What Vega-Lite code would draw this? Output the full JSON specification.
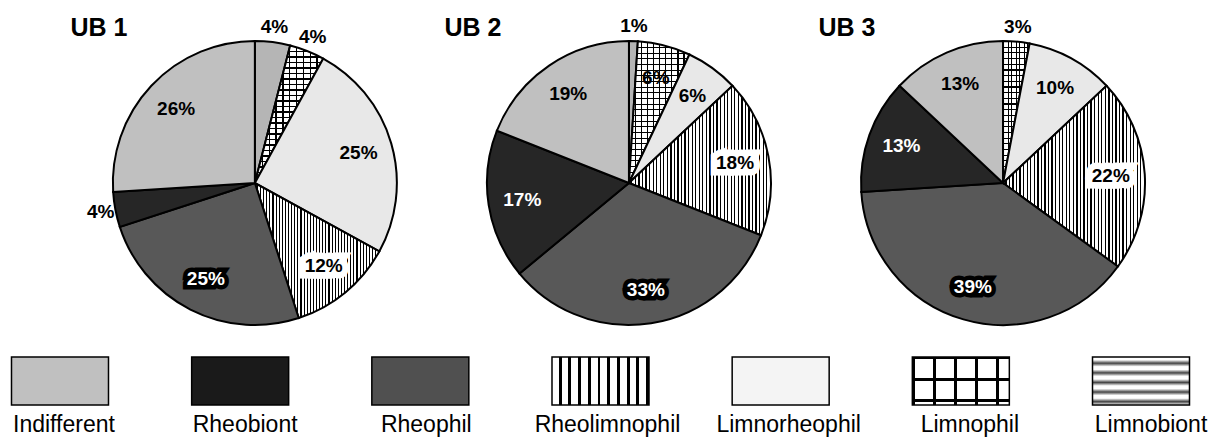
{
"$schema": "https://vega.github.io/schema/vega-lite/v6.json",
"padding": 0,
"background": "#ffffff",
"config": {"view": {"stroke": null}, "font": "Liberation Sans", "text": {"font": "Liberation Sans"}},
"bounds": "flush",
"spacing": 0,
"resolve": {"scale": {"x": "independent"}},
"datasets": {
"pies": [
{"ub":"UB 1","cat":"Limnobiont","share":0.04},
{"ub":"UB 1","cat":"Limnophil","share":0.04},
{"ub":"UB 1","cat":"Limnorheophil","share":0.25},
{"ub":"UB 1","cat":"Rheolimnophil","share":0.12},
{"ub":"UB 1","cat":"Rheophil","share":0.25},
{"ub":"UB 1","cat":"Rheobiont","share":0.04},
{"ub":"UB 1","cat":"Indifferent","share":0.26},
{"ub":"UB 2","cat":"Limnobiont","share":0.01},
{"ub":"UB 2","cat":"Limnophil","share":0.06},
{"ub":"UB 2","cat":"Limnorheophil","share":0.06},
{"ub":"UB 2","cat":"Rheolimnophil","share":0.18},
{"ub":"UB 2","cat":"Rheophil","share":0.33},
{"ub":"UB 2","cat":"Rheobiont","share":0.17},
{"ub":"UB 2","cat":"Indifferent","share":0.19},
{"ub":"UB 3","cat":"Limnophil","share":0.03},
{"ub":"UB 3","cat":"Limnorheophil","share":0.10},
{"ub":"UB 3","cat":"Rheolimnophil","share":0.22},
{"ub":"UB 3","cat":"Rheophil","share":0.39},
{"ub":"UB 3","cat":"Rheobiont","share":0.13},
{"ub":"UB 3","cat":"Indifferent","share":0.13}
],
"cats": [{"cat":"Indifferent"},{"cat":"Rheobiont"},{"cat":"Rheophil"},{"cat":"Rheolimnophil"},{"cat":"Limnorheophil"},{"cat":"Limnophil"},{"cat":"Limnobiont"}]
},
"vconcat": [
{
"width": 1221, "height": 357,
"data": {"name": "pies"},
"transform": [{"window": [{"op": "row_number", "as": "rn"}]}],
"encoding": {"x": {"field": "ub", "type": "nominal", "scale": {"type": "point", "domain": ["UB 1", "UB 2", "UB 3"], "padding": 0.632, "align": 0.539}, "axis": null}},
"layer": [
{
"transform": [{"stack": "share", "groupby": ["ub"], "sort": [{"field": "rn", "order": "ascending"}], "as": ["s0", "s1"]}],
"encoding": {"theta": {"field": "s0", "type": "quantitative", "scale": {"domain": [0, 1]}}, "theta2": {"field": "s1"}},
"layer": [
{"mark": {"type": "arc", "outerRadius": 142, "stroke": "#000", "strokeWidth": 2, "yOffset": 4.5},
 "encoding": {"fill": {"condition": [
  {"test": "datum.cat === 'Indifferent'", "value": "#c0c0c0"},
  {"test": "datum.cat === 'Rheobiont'", "value": "#262626"},
  {"test": "datum.cat === 'Rheophil'", "value": "#585858"},
  {"test": "datum.cat === 'Rheolimnophil'", "value": {"gradient": "linear", "x1": 0, "y1": 0, "x2": 1, "y2": 0, "stops": [
{"offset":0,"color":"#fff"},{"offset":0.016,"color":"#fff"},{"offset":0.016,"color":"#000"},{"offset":0.025,"color":"#000"},
{"offset":0.025,"color":"#fff"},{"offset":0.041,"color":"#fff"},{"offset":0.041,"color":"#000"},{"offset":0.05,"color":"#000"},
{"offset":0.05,"color":"#fff"},{"offset":0.066,"color":"#fff"},{"offset":0.066,"color":"#000"},{"offset":0.075,"color":"#000"},
{"offset":0.075,"color":"#fff"},{"offset":0.091,"color":"#fff"},{"offset":0.091,"color":"#000"},{"offset":0.1,"color":"#000"},
{"offset":0.1,"color":"#fff"},{"offset":0.116,"color":"#fff"},{"offset":0.116,"color":"#000"},{"offset":0.125,"color":"#000"},
{"offset":0.125,"color":"#fff"},{"offset":0.141,"color":"#fff"},{"offset":0.141,"color":"#000"},{"offset":0.15,"color":"#000"},
{"offset":0.15,"color":"#fff"},{"offset":0.166,"color":"#fff"},{"offset":0.166,"color":"#000"},{"offset":0.175,"color":"#000"},
{"offset":0.175,"color":"#fff"},{"offset":0.191,"color":"#fff"},{"offset":0.191,"color":"#000"},{"offset":0.2,"color":"#000"},
{"offset":0.2,"color":"#fff"},{"offset":0.216,"color":"#fff"},{"offset":0.216,"color":"#000"},{"offset":0.225,"color":"#000"},
{"offset":0.225,"color":"#fff"},{"offset":0.241,"color":"#fff"},{"offset":0.241,"color":"#000"},{"offset":0.25,"color":"#000"},
{"offset":0.25,"color":"#fff"},{"offset":0.266,"color":"#fff"},{"offset":0.266,"color":"#000"},{"offset":0.275,"color":"#000"},
{"offset":0.275,"color":"#fff"},{"offset":0.291,"color":"#fff"},{"offset":0.291,"color":"#000"},{"offset":0.3,"color":"#000"},
{"offset":0.3,"color":"#fff"},{"offset":0.316,"color":"#fff"},{"offset":0.316,"color":"#000"},{"offset":0.325,"color":"#000"},
{"offset":0.325,"color":"#fff"},{"offset":0.341,"color":"#fff"},{"offset":0.341,"color":"#000"},{"offset":0.35,"color":"#000"},
{"offset":0.35,"color":"#fff"},{"offset":0.366,"color":"#fff"},{"offset":0.366,"color":"#000"},{"offset":0.375,"color":"#000"},
{"offset":0.375,"color":"#fff"},{"offset":0.391,"color":"#fff"},{"offset":0.391,"color":"#000"},{"offset":0.4,"color":"#000"},
{"offset":0.4,"color":"#fff"},{"offset":0.416,"color":"#fff"},{"offset":0.416,"color":"#000"},{"offset":0.425,"color":"#000"},
{"offset":0.425,"color":"#fff"},{"offset":0.441,"color":"#fff"},{"offset":0.441,"color":"#000"},{"offset":0.45,"color":"#000"},
{"offset":0.45,"color":"#fff"},{"offset":0.466,"color":"#fff"},{"offset":0.466,"color":"#000"},{"offset":0.475,"color":"#000"},
{"offset":0.475,"color":"#fff"},{"offset":0.491,"color":"#fff"},{"offset":0.491,"color":"#000"},{"offset":0.5,"color":"#000"},
{"offset":0.5,"color":"#fff"},{"offset":0.516,"color":"#fff"},{"offset":0.516,"color":"#000"},{"offset":0.525,"color":"#000"},
{"offset":0.525,"color":"#fff"},{"offset":0.541,"color":"#fff"},{"offset":0.541,"color":"#000"},{"offset":0.55,"color":"#000"},
{"offset":0.55,"color":"#fff"},{"offset":0.566,"color":"#fff"},{"offset":0.566,"color":"#000"},{"offset":0.575,"color":"#000"},
{"offset":0.575,"color":"#fff"},{"offset":0.591,"color":"#fff"},{"offset":0.591,"color":"#000"},{"offset":0.6,"color":"#000"},
{"offset":0.6,"color":"#fff"},{"offset":0.616,"color":"#fff"},{"offset":0.616,"color":"#000"},{"offset":0.625,"color":"#000"},
{"offset":0.625,"color":"#fff"},{"offset":0.641,"color":"#fff"},{"offset":0.641,"color":"#000"},{"offset":0.65,"color":"#000"},
{"offset":0.65,"color":"#fff"},{"offset":0.666,"color":"#fff"},{"offset":0.666,"color":"#000"},{"offset":0.675,"color":"#000"},
{"offset":0.675,"color":"#fff"},{"offset":0.691,"color":"#fff"},{"offset":0.691,"color":"#000"},{"offset":0.7,"color":"#000"},
{"offset":0.7,"color":"#fff"},{"offset":0.716,"color":"#fff"},{"offset":0.716,"color":"#000"},{"offset":0.725,"color":"#000"},
{"offset":0.725,"color":"#fff"},{"offset":0.741,"color":"#fff"},{"offset":0.741,"color":"#000"},{"offset":0.75,"color":"#000"},
{"offset":0.75,"color":"#fff"},{"offset":0.766,"color":"#fff"},{"offset":0.766,"color":"#000"},{"offset":0.775,"color":"#000"},
{"offset":0.775,"color":"#fff"},{"offset":0.791,"color":"#fff"},{"offset":0.791,"color":"#000"},{"offset":0.8,"color":"#000"},
{"offset":0.8,"color":"#fff"},{"offset":0.816,"color":"#fff"},{"offset":0.816,"color":"#000"},{"offset":0.825,"color":"#000"},
{"offset":0.825,"color":"#fff"},{"offset":0.841,"color":"#fff"},{"offset":0.841,"color":"#000"},{"offset":0.85,"color":"#000"},
{"offset":0.85,"color":"#fff"},{"offset":0.866,"color":"#fff"},{"offset":0.866,"color":"#000"},{"offset":0.875,"color":"#000"},
{"offset":0.875,"color":"#fff"},{"offset":0.891,"color":"#fff"},{"offset":0.891,"color":"#000"},{"offset":0.9,"color":"#000"},
{"offset":0.9,"color":"#fff"},{"offset":0.916,"color":"#fff"},{"offset":0.916,"color":"#000"},{"offset":0.925,"color":"#000"},
{"offset":0.925,"color":"#fff"},{"offset":0.941,"color":"#fff"},{"offset":0.941,"color":"#000"},{"offset":0.95,"color":"#000"},
{"offset":0.95,"color":"#fff"},{"offset":0.966,"color":"#fff"},{"offset":0.966,"color":"#000"},{"offset":0.975,"color":"#000"},
{"offset":0.975,"color":"#fff"},{"offset":0.991,"color":"#fff"},{"offset":0.991,"color":"#000"},{"offset":1,"color":"#000"}
  ]}},
  {"test": "datum.cat === 'Limnorheophil'", "value": "#e8e8e8"},
  {"test": "datum.cat === 'Limnophil'", "value": {"gradient": "linear", "x1": 0, "y1": 0, "x2": 1, "y2": 0, "stops": [
{"offset":0,"color":"#000"},{"offset":0.02,"color":"#000"},{"offset":0.02,"color":"#fff"},{"offset":0.1,"color":"#fff"},
{"offset":0.1,"color":"#000"},{"offset":0.12,"color":"#000"},{"offset":0.12,"color":"#fff"},{"offset":0.2,"color":"#fff"},
{"offset":0.2,"color":"#000"},{"offset":0.22,"color":"#000"},{"offset":0.22,"color":"#fff"},{"offset":0.3,"color":"#fff"},
{"offset":0.3,"color":"#000"},{"offset":0.32,"color":"#000"},{"offset":0.32,"color":"#fff"},{"offset":0.4,"color":"#fff"},
{"offset":0.4,"color":"#000"},{"offset":0.42,"color":"#000"},{"offset":0.42,"color":"#fff"},{"offset":0.5,"color":"#fff"},
{"offset":0.5,"color":"#000"},{"offset":0.52,"color":"#000"},{"offset":0.52,"color":"#fff"},{"offset":0.6,"color":"#fff"},
{"offset":0.6,"color":"#000"},{"offset":0.62,"color":"#000"},{"offset":0.62,"color":"#fff"},{"offset":0.7,"color":"#fff"},
{"offset":0.7,"color":"#000"},{"offset":0.72,"color":"#000"},{"offset":0.72,"color":"#fff"},{"offset":0.8,"color":"#fff"},
{"offset":0.8,"color":"#000"},{"offset":0.82,"color":"#000"},{"offset":0.82,"color":"#fff"},{"offset":0.9,"color":"#fff"},
{"offset":0.9,"color":"#000"},{"offset":0.92,"color":"#000"},{"offset":0.92,"color":"#fff"},{"offset":1,"color":"#fff"}
  ]}}
 ], "value": "#b5b5b5"}}},
{"mark": {"type": "arc", "outerRadius": 142, "yOffset": 4.5},
 "encoding": {"fill": {"condition": {"test": "datum.cat === 'Limnophil'", "value": {"gradient": "linear", "x1": 0, "y1": 0, "x2": 0, "y2": 1, "stops": [
{"offset":0,"color":"#000"},{"offset":0.008,"color":"#000"},{"offset":0.008,"color":"transparent"},{"offset":0.04,"color":"transparent"},
{"offset":0.04,"color":"#000"},{"offset":0.048,"color":"#000"},{"offset":0.048,"color":"transparent"},{"offset":0.08,"color":"transparent"},
{"offset":0.08,"color":"#000"},{"offset":0.088,"color":"#000"},{"offset":0.088,"color":"transparent"},{"offset":0.12,"color":"transparent"},
{"offset":0.12,"color":"#000"},{"offset":0.128,"color":"#000"},{"offset":0.128,"color":"transparent"},{"offset":0.16,"color":"transparent"},
{"offset":0.16,"color":"#000"},{"offset":0.168,"color":"#000"},{"offset":0.168,"color":"transparent"},{"offset":0.2,"color":"transparent"},
{"offset":0.2,"color":"#000"},{"offset":0.208,"color":"#000"},{"offset":0.208,"color":"transparent"},{"offset":0.24,"color":"transparent"},
{"offset":0.24,"color":"#000"},{"offset":0.248,"color":"#000"},{"offset":0.248,"color":"transparent"},{"offset":0.28,"color":"transparent"},
{"offset":0.28,"color":"#000"},{"offset":0.288,"color":"#000"},{"offset":0.288,"color":"transparent"},{"offset":0.32,"color":"transparent"},
{"offset":0.32,"color":"#000"},{"offset":0.328,"color":"#000"},{"offset":0.328,"color":"transparent"},{"offset":0.36,"color":"transparent"},
{"offset":0.36,"color":"#000"},{"offset":0.368,"color":"#000"},{"offset":0.368,"color":"transparent"},{"offset":0.4,"color":"transparent"},
{"offset":0.4,"color":"#000"},{"offset":0.408,"color":"#000"},{"offset":0.408,"color":"transparent"},{"offset":0.44,"color":"transparent"},
{"offset":0.44,"color":"#000"},{"offset":0.448,"color":"#000"},{"offset":0.448,"color":"transparent"},{"offset":0.48,"color":"transparent"},
{"offset":0.48,"color":"#000"},{"offset":0.488,"color":"#000"},{"offset":0.488,"color":"transparent"},{"offset":0.52,"color":"transparent"},
{"offset":0.52,"color":"#000"},{"offset":0.528,"color":"#000"},{"offset":0.528,"color":"transparent"},{"offset":0.56,"color":"transparent"},
{"offset":0.56,"color":"#000"},{"offset":0.568,"color":"#000"},{"offset":0.568,"color":"transparent"},{"offset":0.6,"color":"transparent"},
{"offset":0.6,"color":"#000"},{"offset":0.608,"color":"#000"},{"offset":0.608,"color":"transparent"},{"offset":0.64,"color":"transparent"},
{"offset":0.64,"color":"#000"},{"offset":0.648,"color":"#000"},{"offset":0.648,"color":"transparent"},{"offset":0.68,"color":"transparent"},
{"offset":0.68,"color":"#000"},{"offset":0.688,"color":"#000"},{"offset":0.688,"color":"transparent"},{"offset":0.72,"color":"transparent"},
{"offset":0.72,"color":"#000"},{"offset":0.728,"color":"#000"},{"offset":0.728,"color":"transparent"},{"offset":0.76,"color":"transparent"},
{"offset":0.76,"color":"#000"},{"offset":0.768,"color":"#000"},{"offset":0.768,"color":"transparent"},{"offset":0.8,"color":"transparent"},
{"offset":0.8,"color":"#000"},{"offset":0.808,"color":"#000"},{"offset":0.808,"color":"transparent"},{"offset":0.84,"color":"transparent"},
{"offset":0.84,"color":"#000"},{"offset":0.848,"color":"#000"},{"offset":0.848,"color":"transparent"},{"offset":0.88,"color":"transparent"},
{"offset":0.88,"color":"#000"},{"offset":0.888,"color":"#000"},{"offset":0.888,"color":"transparent"},{"offset":0.92,"color":"transparent"},
{"offset":0.92,"color":"#000"},{"offset":0.928,"color":"#000"},{"offset":0.928,"color":"transparent"},{"offset":0.96,"color":"transparent"},
{"offset":0.96,"color":"#000"},{"offset":0.968,"color":"#000"},{"offset":0.968,"color":"transparent"},{"offset":1,"color":"transparent"}
 ]}}, "value": "transparent"}}}
]
},
{
"transform": [{"filter": "datum.ub === 'UB 1'"}],
"encoding": {"theta": {"field": "share", "type": "quantitative", "stack": true, "scale": {"domain": [0, 1]}}, "order": {"field": "rn", "type": "quantitative"}, "text": {"field": "share", "type": "quantitative", "format": ".0%"}},
"layer": [
{"mark": {"type": "text", "radius": 108, "yOffset": 4.5, "fontSize": 19, "fontWeight": "bold", "strokeJoin": "miter"},
 "encoding": {"fill": {"condition": {"test": "datum.cat === 'Rheolimnophil'", "value": "#fff"}, "value": "#000"}, "stroke": {"condition": {"test": "datum.cat === 'Rheolimnophil'", "value": "#fff"}, "value": "#000"}, "strokeWidth": {"condition": {"test": "datum.cat === 'Rheolimnophil'", "value": 13}, "value": 9}, "opacity": {"condition": {"test": "(datum.cat === 'Rheolimnophil' || datum.cat === 'Rheophil') && datum.share >= 0.05", "value": 1}, "value": 0}}},
{"mark": {"type": "text", "radius": 108, "yOffset": 4.5, "fontSize": 19, "fontWeight": "bold"},
 "encoding": {"fill": {"condition": {"test": "datum.cat === 'Rheophil' || datum.cat === 'Rheobiont'", "value": "#fff"}, "value": "#000"}, "opacity": {"condition": {"test": "datum.share >= 0.05", "value": 1}, "value": 0}}},
{"mark": {"type": "text", "radius": 157, "yOffset": 4.5, "fontSize": 19, "fontWeight": "bold", "fill": "#000"},
 "encoding": {"opacity": {"condition": {"test": "datum.share < 0.05", "value": 1}, "value": 0}}}
]
},
{
"transform": [{"filter": "datum.ub === 'UB 2'"}],
"encoding": {"theta": {"field": "share", "type": "quantitative", "stack": true, "scale": {"domain": [0, 1]}}, "order": {"field": "rn", "type": "quantitative"}, "text": {"field": "share", "type": "quantitative", "format": ".0%"}},
"layer": [
{"mark": {"type": "text", "radius": 108, "yOffset": 4.5, "fontSize": 19, "fontWeight": "bold", "strokeJoin": "miter"},
 "encoding": {"fill": {"condition": {"test": "datum.cat === 'Rheolimnophil'", "value": "#fff"}, "value": "#000"}, "stroke": {"condition": {"test": "datum.cat === 'Rheolimnophil'", "value": "#fff"}, "value": "#000"}, "strokeWidth": {"condition": {"test": "datum.cat === 'Rheolimnophil'", "value": 13}, "value": 9}, "opacity": {"condition": {"test": "(datum.cat === 'Rheolimnophil' || datum.cat === 'Rheophil') && datum.share >= 0.05", "value": 1}, "value": 0}}},
{"mark": {"type": "text", "radius": 108, "yOffset": 4.5, "fontSize": 19, "fontWeight": "bold"},
 "encoding": {"fill": {"condition": {"test": "datum.cat === 'Rheophil' || datum.cat === 'Rheobiont'", "value": "#fff"}, "value": "#000"}, "opacity": {"condition": {"test": "datum.share >= 0.05", "value": 1}, "value": 0}}},
{"mark": {"type": "text", "radius": 157, "yOffset": 4.5, "fontSize": 19, "fontWeight": "bold", "fill": "#000"},
 "encoding": {"opacity": {"condition": {"test": "datum.share < 0.05", "value": 1}, "value": 0}}}
]
},
{
"transform": [{"filter": "datum.ub === 'UB 3'"}],
"encoding": {"theta": {"field": "share", "type": "quantitative", "stack": true, "scale": {"domain": [0, 1]}}, "order": {"field": "rn", "type": "quantitative"}, "text": {"field": "share", "type": "quantitative", "format": ".0%"}},
"layer": [
{"mark": {"type": "text", "radius": 108, "yOffset": 4.5, "fontSize": 19, "fontWeight": "bold", "strokeJoin": "miter"},
 "encoding": {"fill": {"condition": {"test": "datum.cat === 'Rheolimnophil'", "value": "#fff"}, "value": "#000"}, "stroke": {"condition": {"test": "datum.cat === 'Rheolimnophil'", "value": "#fff"}, "value": "#000"}, "strokeWidth": {"condition": {"test": "datum.cat === 'Rheolimnophil'", "value": 13}, "value": 9}, "opacity": {"condition": {"test": "(datum.cat === 'Rheolimnophil' || datum.cat === 'Rheophil') && datum.share >= 0.05", "value": 1}, "value": 0}}},
{"mark": {"type": "text", "radius": 108, "yOffset": 4.5, "fontSize": 19, "fontWeight": "bold"},
 "encoding": {"fill": {"condition": {"test": "datum.cat === 'Rheophil' || datum.cat === 'Rheobiont'", "value": "#fff"}, "value": "#000"}, "opacity": {"condition": {"test": "datum.share >= 0.05", "value": 1}, "value": 0}}},
{"mark": {"type": "text", "radius": 157, "yOffset": 4.5, "fontSize": 19, "fontWeight": "bold", "fill": "#000"},
 "encoding": {"opacity": {"condition": {"test": "datum.share < 0.05", "value": 1}, "value": 0}}}
]
},
{
"transform": [{"aggregate": [{"op": "count", "as": "n"}], "groupby": ["ub"]}],
"mark": {"type": "text", "fontSize": 25, "fontWeight": "bold", "align": "center", "baseline": "alphabetic", "dx": -156, "dy": -142.5},
"encoding": {"text": {"field": "ub", "type": "nominal"}}
}
]
},
{
"width": 1201, "height": 48,
"data": {"name": "cats"},
"encoding": {"x": {"field": "cat", "type": "nominal", "sort": null, "scale": {"type": "band", "domain": ["Indifferent", "Rheobiont", "Rheophil", "Rheolimnophil", "Limnorheophil", "Limnophil", "Limnobiont"], "paddingInner": 0.4616, "paddingOuter": 0.0638}, "axis": null}},
"layer": [
{"mark": {"type": "rect", "stroke": "#000", "strokeWidth": 1.5},
 "encoding": {"fill": {"condition": [
  {"test": "datum.cat === 'Indifferent'", "value": "#c0c0c0"},
  {"test": "datum.cat === 'Rheobiont'", "value": "#1a1a1a"},
  {"test": "datum.cat === 'Rheophil'", "value": "#505050"},
  {"test": "datum.cat === 'Rheolimnophil'", "value": {"gradient": "linear", "x1": 0, "y1": 0, "x2": 1, "y2": 0, "stops": [
{"offset":0,"color":"#fff"},{"offset":0.07,"color":"#fff"},{"offset":0.07,"color":"#000"},{"offset":0.1,"color":"#000"},
{"offset":0.1,"color":"#fff"},{"offset":0.17,"color":"#fff"},{"offset":0.17,"color":"#000"},{"offset":0.2,"color":"#000"},
{"offset":0.2,"color":"#fff"},{"offset":0.27,"color":"#fff"},{"offset":0.27,"color":"#000"},{"offset":0.3,"color":"#000"},
{"offset":0.3,"color":"#fff"},{"offset":0.37,"color":"#fff"},{"offset":0.37,"color":"#000"},{"offset":0.4,"color":"#000"},
{"offset":0.4,"color":"#fff"},{"offset":0.47,"color":"#fff"},{"offset":0.47,"color":"#000"},{"offset":0.5,"color":"#000"},
{"offset":0.5,"color":"#fff"},{"offset":0.57,"color":"#fff"},{"offset":0.57,"color":"#000"},{"offset":0.6,"color":"#000"},
{"offset":0.6,"color":"#fff"},{"offset":0.67,"color":"#fff"},{"offset":0.67,"color":"#000"},{"offset":0.7,"color":"#000"},
{"offset":0.7,"color":"#fff"},{"offset":0.77,"color":"#fff"},{"offset":0.77,"color":"#000"},{"offset":0.8,"color":"#000"},
{"offset":0.8,"color":"#fff"},{"offset":0.87,"color":"#fff"},{"offset":0.87,"color":"#000"},{"offset":0.9,"color":"#000"},
{"offset":0.9,"color":"#fff"},{"offset":0.97,"color":"#fff"},{"offset":0.97,"color":"#000"},{"offset":1,"color":"#000"}
  ]}},
  {"test": "datum.cat === 'Limnorheophil'", "value": "#f4f4f4"},
  {"test": "datum.cat === 'Limnophil'", "value": {"gradient": "linear", "x1": 0, "y1": 0, "x2": 1, "y2": 0, "stops": [
{"offset":0,"color":"#000"},{"offset":0.025,"color":"#000"},{"offset":0.025,"color":"#fff"},{"offset":0.216,"color":"#fff"},
{"offset":0.216,"color":"#000"},{"offset":0.241,"color":"#000"},{"offset":0.241,"color":"#fff"},{"offset":0.433,"color":"#fff"},
{"offset":0.433,"color":"#000"},{"offset":0.458,"color":"#000"},{"offset":0.458,"color":"#fff"},{"offset":0.65,"color":"#fff"},
{"offset":0.65,"color":"#000"},{"offset":0.675,"color":"#000"},{"offset":0.675,"color":"#fff"},{"offset":0.866,"color":"#fff"},
{"offset":0.866,"color":"#000"},{"offset":0.891,"color":"#000"},{"offset":0.891,"color":"#fff"},{"offset":1,"color":"#fff"}
  ]}}
 ], "value": {"gradient": "linear", "x1": 0, "y1": 0, "x2": 0, "y2": 1, "stops": [
{"offset":0,"color":"#fff"},{"offset":0.06,"color":"#fff"},{"offset":0.13,"color":"#444"},{"offset":0.2,"color":"#fff"},
{"offset":0.26,"color":"#fff"},{"offset":0.33,"color":"#444"},{"offset":0.4,"color":"#fff"},
{"offset":0.46,"color":"#fff"},{"offset":0.53,"color":"#444"},{"offset":0.6,"color":"#fff"},
{"offset":0.66,"color":"#fff"},{"offset":0.73,"color":"#444"},{"offset":0.8,"color":"#fff"},
{"offset":0.86,"color":"#fff"},{"offset":0.93,"color":"#444"},{"offset":1,"color":"#fff"}
 ]}}}},
{"mark": {"type": "rect"},
 "encoding": {"fill": {"condition": {"test": "datum.cat === 'Limnophil'", "value": {"gradient": "linear", "x1": 0, "y1": 0, "x2": 0, "y2": 1, "stops": [
{"offset":0,"color":"#000"},{"offset":0.05,"color":"#000"},{"offset":0.05,"color":"transparent"},{"offset":0.44,"color":"transparent"},
{"offset":0.44,"color":"#000"},{"offset":0.49,"color":"#000"},{"offset":0.49,"color":"transparent"},{"offset":0.88,"color":"transparent"},
{"offset":0.88,"color":"#000"},{"offset":0.93,"color":"#000"},{"offset":0.93,"color":"transparent"},{"offset":1,"color":"transparent"}
 ]}}, "value": "transparent"}}}
]
},
{
"width": 1215, "height": 34,
"data": {"name": "cats"},
"mark": {"type": "text", "fontSize": 23, "baseline": "alphabetic", "dy": 10},
"encoding": {
 "x": {"field": "cat", "type": "nominal", "sort": null, "scale": {"type": "point", "domain": ["Indifferent", "Rheobiont", "Rheophil", "Rheolimnophil", "Limnorheophil", "Limnophil", "Limnobiont"], "padding": 0.353}, "axis": null},
 "text": {"field": "cat", "type": "nominal"}
}
}
]
}
